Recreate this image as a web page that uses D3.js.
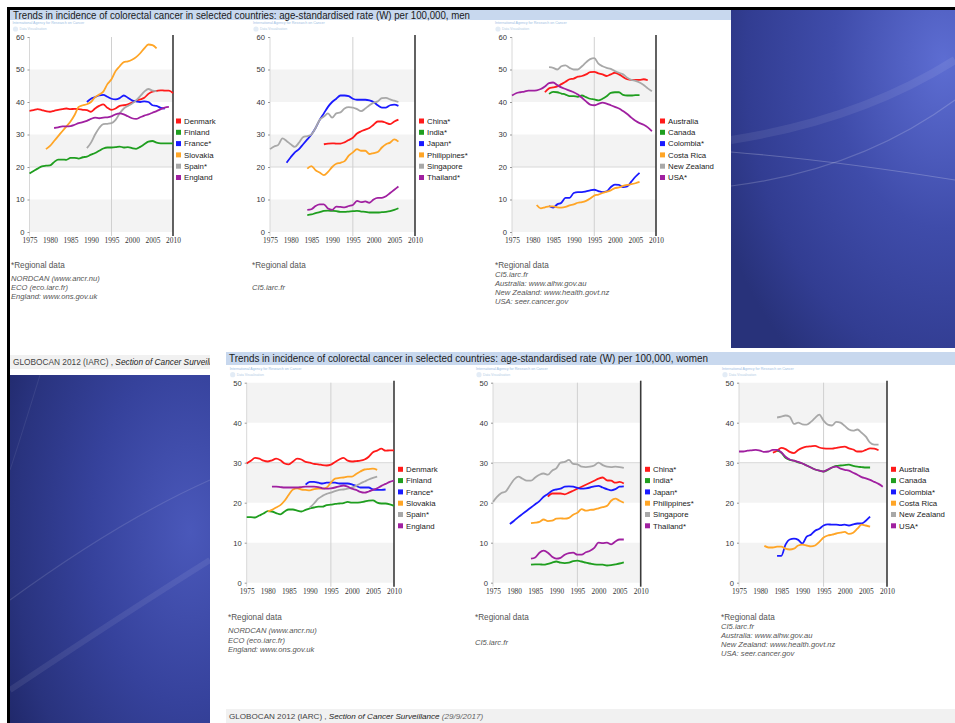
<!DOCTYPE html>
<html><head><meta charset="utf-8">
<script src="https://cdn.jsdelivr.net/npm/d3@7/dist/d3.min.js"></script>
<style>body{margin:0;background:#fff}svg{display:block;font-family:"Liberation Sans",Arial,sans-serif}</style>
</head><body><svg id="c" width="955" height="723"></svg>
<script>
// ---------- DATA ----------
const yearTicks = [1975,1980,1985,1990,1995,2000,2005,2010];
const menTicks = [0,10,20,30,40,50,60];
const womenTicks = [0,10,20,30,40,50];
const seriesColors = ["#ff1a1a","#1f9e1f","#1a1aff","#ffa526","#a8a8a8","#a020a0"];

// Men – Europe
const mEuNames = ["Denmark","Finland","France*","Slovakia","Spain*","England"];
const mEuStart = [1975,1975,1989,1979,1989,1981];
const mDenmark = [37.3,37.5,37.8,37.5,37.2,37.0,37.3,37.6,37.8,38.0,37.8,37.9,37.8,37.6,37.5,37.0,38.0,38.8,39.3,38.2,37.6,38.0,38.8,39.0,39.3,39.8,40.4,40.8,41.3,42.5,43.2,43.4,43.6,43.5,43.5,42.7];
const mFinland = [18.0,18.8,19.5,20.2,20.4,20.5,21.5,22.3,22.3,22.2,22.8,22.8,22.6,23.0,23.2,23.8,24.3,25.0,25.7,26.0,26.0,26.1,26.3,26.0,26.1,25.8,25.6,26.2,27.0,27.8,28.0,27.5,27.3,27.3,27.3,27.3];
const mFrance = [40.0,41.0,41.5,42.0,42.2,41.6,41.0,40.8,41.2,42.0,41.3,40.5,40.2,40.0,40.2,40.0,39.0,38.8,38.2,38.0];
const mSlovakia = [25.5,26.5,28.0,29.5,31.0,32.5,34.0,36.0,38.5,39.0,39.3,40.0,41.5,42.3,43.2,45.5,47.0,49.5,51.0,52.3,52.5,53.0,53.8,55.0,56.5,57.7,57.5,56.5];
const mSpain = [25.8,27.5,30.0,32.0,33.2,33.3,33.5,34.5,36.5,38.0,38.8,39.5,40.5,41.8,43.2,44.0,43.5,43.3];
const mEngland = [32.0,32.2,32.5,32.5,32.6,33.0,33.5,33.8,34.2,34.8,35.2,35.0,35.2,35.3,35.6,36.2,36.5,36.2,35.6,35.0,34.8,35.3,35.8,36.2,36.7,37.2,37.8,38.3,38.5];

// Men – Asia
const mAsNames = ["China*","India*","Japan*","Philippines*","Singapore","Thailand*"];
const mAsStart = [1988,1984,1979,1984,1975,1984];
const mChina = [27.0,27.2,27.3,27.2,27.2,27.6,28.3,29.0,30.3,31.0,31.5,32.0,33.0,34.0,34.0,33.6,33.2,34.0,34.6];
const mIndia = [5.2,5.4,5.8,6.1,6.5,6.6,6.5,6.4,6.2,6.2,6.3,6.4,6.5,6.3,6.2,6.0,6.0,6.0,6.1,6.2,6.4,6.8,7.3];
const mJapan = [21.3,23.0,24.5,25.5,27.0,28.5,30.0,32.0,34.5,36.5,38.5,40.0,41.0,42.0,42.0,41.8,41.0,40.7,40.7,40.7,40.5,40.0,39.0,38.3,38.3,39.0,39.2,38.8];
const mPhilippines = [19.5,20.3,19.0,18.3,17.5,18.5,20.0,21.0,21.3,21.8,23.5,24.5,25.5,25.0,25.0,24.0,24.3,24.6,26.0,27.0,27.5,28.5,27.8];
const mSingapore = [25.5,26.3,26.8,28.8,28.0,27.0,26.2,27.5,29.2,29.5,30.0,32.0,34.5,35.5,36.5,35.2,36.5,36.8,38.0,38.4,38.3,37.8,37.2,38.0,39.0,39.8,40.2,41.2,41.3,40.8,40.4,40.0];
const mThailand = [6.8,7.0,8.0,8.5,8.5,7.2,6.8,7.8,7.7,7.6,8.0,8.3,9.6,9.2,9.4,9.0,10.0,10.5,10.5,11.0,12.0,13.0,14.0];

// Men – Americas / Oceania
const mAmNames = ["Australia","Canada","Colombia*","Costa Rica","New Zealand","USA*"];
const mAmStart = [1983,1984,1984,1981,1984,1975];
const mAustralia = [43.0,44.2,44.5,44.8,45.5,46.2,47.0,47.2,47.8,48.0,48.5,49.2,49.3,48.8,48.5,48.0,48.5,49.0,48.5,47.7,47.0,46.8,46.8,46.8,47.0,46.7];
const mCanada = [42.5,43.1,43.0,42.6,42.3,41.8,41.8,41.6,42.0,41.5,41.0,40.8,40.5,41.0,41.8,42.8,43.0,43.0,42.2,42.0,42.0,42.1,42.1];
const mColombia = [8.0,7.5,8.5,9.0,10.5,10.5,12.0,12.3,12.3,12.5,12.8,13.0,12.6,12.3,12.5,13.8,14.6,14.5,13.8,14.0,15.5,17.0,18.2];
const mCostaRica = [8.3,7.3,7.6,7.9,7.9,7.6,7.5,7.7,8.2,8.5,9.0,9.2,9.6,10.3,11.2,11.5,12.0,12.4,12.8,13.5,13.7,14.2,14.5,14.7,15.0,15.4];
const mNewZealand = [50.7,50.5,50.0,51.0,51.3,50.5,50.0,50.0,51.0,52.2,53.2,53.5,51.8,51.0,50.5,50.2,49.5,49.0,48.5,47.5,46.8,46.5,46.0,45.2,44.2,43.3];
const mUSA = [42.0,42.7,43.0,43.2,43.5,43.5,43.6,44.0,44.8,45.8,46.0,45.2,44.5,44.0,43.5,43.0,42.3,41.3,40.2,39.2,39.0,39.4,39.8,39.5,39.0,38.5,38.0,37.2,36.3,35.2,34.2,33.5,33.0,32.2,31.0];

// Women – Europe
const wEuStart = [1975,1975,1989,1980,1990,1981];
const wDenmark = [29.8,30.5,31.2,31.0,30.5,30.3,30.6,31.0,30.6,29.8,29.6,30.3,31.0,30.8,30.2,30.0,29.7,29.6,29.4,29.3,29.5,30.2,30.8,31.2,30.5,30.3,30.4,30.5,30.8,31.5,32.6,33.0,33.5,33.0,33.1,33.1];
const wFinland = [16.4,16.4,16.3,16.8,17.3,17.9,17.8,17.4,17.1,17.8,18.3,18.3,18.0,17.8,18.2,18.6,18.8,19.0,19.0,19.4,19.5,19.7,19.8,19.9,20.2,20.0,20.0,20.1,20.3,20.5,20.6,20.0,19.8,19.8,19.6,19.2];
const wFrance = [24.5,25.2,25.2,25.0,24.8,25.0,25.0,25.0,24.8,24.8,24.8,24.6,24.2,23.8,23.8,23.8,23.3,23.2,23.2,23.3];
const wSlovakia = [17.8,18.2,18.8,19.4,20.5,22.0,23.3,23.6,23.3,23.2,23.1,23.4,23.5,23.5,23.8,25.0,26.0,26.2,26.3,26.5,26.5,27.2,27.8,28.3,28.4,28.5,28.2];
const wSpain = [18.8,19.8,21.0,21.7,22.2,22.5,22.9,23.2,23.3,23.5,23.8,24.2,24.8,25.3,25.8,26.2,26.5];
const wEngland = [24.0,24.0,23.9,23.8,23.8,23.8,23.8,23.9,24.0,24.0,24.0,23.9,23.6,23.5,23.6,23.8,24.1,24.3,24.0,23.5,23.2,22.7,22.5,22.8,23.2,23.6,24.2,24.7,25.2,25.5];

// Women – Asia
const wAsStart = [1988,1984,1979,1984,1975,1984];
const wChina = [21.5,22.3,22.3,22.3,22.1,22.5,23.0,23.5,24.0,24.5,25.0,25.5,26.0,26.3,25.6,25.5,25.0,25.2,24.8];
const wIndia = [4.5,4.6,4.6,4.5,4.7,5.0,5.3,5.0,4.9,5.0,5.4,5.5,5.3,5.0,4.8,4.6,4.5,4.5,4.3,4.4,4.6,4.8,5.1];
const wJapan = [14.7,15.5,16.4,17.2,18.0,18.8,19.6,20.4,21.5,22.2,23.0,23.3,23.5,24.0,24.1,24.0,23.7,23.5,23.6,23.8,24.1,24.2,23.8,23.4,23.1,23.4,24.0,24.1];
const wPhilippines = [14.9,15.0,15.2,15.8,15.4,15.5,16.0,16.1,16.0,16.2,17.0,17.5,18.4,18.0,18.2,18.3,18.6,18.9,19.2,20.5,21.0,20.5,20.0];
const wSingapore = [20.2,21.5,22.4,22.8,24.3,25.8,26.5,26.0,25.5,25.5,26.3,27.0,27.3,27.0,28.0,28.6,30.0,30.2,30.7,29.7,29.6,29.0,28.9,29.0,29.3,30.0,29.4,29.0,28.9,29.0,28.9,28.7];
const wThailand = [6.0,6.3,7.5,8.0,7.5,6.5,6.0,6.2,7.0,7.4,7.5,7.0,7.0,7.6,8.0,8.7,10.0,9.9,10.0,9.6,10.3,10.8,10.8];

// Women – Americas / Oceania
const wAmStart = [1983,1984,1984,1981,1984,1975];
const wAustralia = [32.5,33.0,33.7,33.4,32.7,32.4,33.2,33.7,34.0,34.1,34.2,33.8,33.6,33.5,33.5,33.7,33.9,34.0,33.6,33.3,32.8,32.8,33.2,33.6,33.5,33.1];
const wCanada = [33.0,32.5,31.2,30.7,30.5,30.1,29.8,29.3,28.8,28.3,28.0,27.8,28.2,28.8,29.2,29.3,29.4,29.5,29.2,29.0,28.9,28.8,28.8];
const wColombia = [6.7,6.7,9.5,10.8,11.0,10.7,9.8,11.5,12.0,13.0,13.5,14.3,14.6,14.5,14.5,14.4,14.5,14.3,14.6,14.8,14.8,15.5,16.5];
const wCostaRica = [9.2,8.8,8.8,9.0,9.0,8.5,8.3,8.5,9.3,9.5,9.3,9.1,9.3,10.2,11.3,11.8,12.0,12.3,12.5,12.7,12.2,12.5,13.5,14.5,14.3,14.0];
const wNewZealand = [41.3,41.5,41.8,41.5,39.7,40.0,39.6,39.5,40.2,41.2,42.0,40.5,39.5,39.3,40.2,40.0,39.2,38.3,38.0,38.3,37.5,36.5,35.0,34.5,34.5];
const wUSA = [32.8,32.8,33.0,33.1,33.2,33.0,32.7,32.8,33.2,33.2,32.6,31.5,30.8,30.5,30.2,29.8,29.3,28.8,28.3,28.0,27.8,28.3,28.8,29.0,28.5,28.2,28.0,27.5,27.0,26.4,26.1,25.7,25.2,24.7,24.0];

const titleMen = "Trends in incidence of colorectal cancer in selected countries: age-standardised rate (W) per 100,000, men";
const titleWomen = "Trends in incidence of colorectal cancer in selected countries: age-standardised rate (W) per 100,000, women";
const notesEu = ["NORDCAN (www.ancr.nu)","ECO (eco.iarc.fr)","England: www.ons.gov.uk"];
const notesAs = ["","","CI5.iarc.fr"];
const notesAm = ["CI5.iarc.fr","Australia: www.aihw.gov.au","New Zealand: www.health.govt.nz","USA: seer.cancer.gov"];

// ---------- DRAW ----------
const svg = d3.select("#c");
const defs = svg.append("defs");
function grad(id, cx, cy, stops){
  const g = defs.append("radialGradient").attr("id",id).attr("cx",cx).attr("cy",cy).attr("r","1.1");
  stops.forEach(s=>g.append("stop").attr("offset",s[0]).attr("stop-color",s[1]));
}
grad("bgTop","0.95","0.15",[[0,"#5d6dd2"],[0.45,"#3f4caa"],[0.8,"#323d92"],[1,"#28327a"]]);
grad("bgBot","0.9","0.45",[[0,"#4a58ba"],[0.45,"#36429c"],[0.8,"#29337e"],[1,"#1e2666"]]);

svg.append("rect").attr("width",955).attr("height",723).attr("fill","#fff");

// blue backgrounds
svg.append("rect").attr("x",731).attr("y",10).attr("width",224).attr("height",338).attr("fill","url(#bgTop)");
svg.append("rect").attr("x",10).attr("y",375).attr("width",200).attr("height",348).attr("fill","url(#bgBot)");
const streak = (d,op,w)=>svg.append("path").attr("d",d).attr("fill","none").attr("stroke","#fff").attr("stroke-opacity",op).attr("stroke-width",w);
streak("M731,152 Q830,160 955,180",0.22,1.2);
streak("M731,186 Q860,170 955,100",0.18,1.2);
streak("M731,140 Q860,120 955,60",0.08,8);
streak("M10,600 Q120,520 210,480",0.12,1.2);
streak("M10,690 Q130,610 210,560",0.08,6);
streak("M40,375 Q20,440 10,470",0.08,1);

// black frame lines
svg.append("rect").attr("x",7).attr("y",7).attr("width",948).attr("height",3).attr("fill","#000");
svg.append("rect").attr("x",7).attr("y",7).attr("width",3).attr("height",716).attr("fill","#000");

// title bars
svg.append("rect").attr("x",10).attr("y",10).attr("width",721).attr("height",10).attr("fill","#c8d8ee");
svg.append("text").attr("x",13).attr("y",18.6).attr("font-size",10.3).attr("fill","#1a1a1a")
  .attr("textLength",457).attr("lengthAdjust","spacingAndGlyphs").text(titleMen);
svg.append("rect").attr("x",226).attr("y",352).attr("width",729).attr("height",13).attr("fill","#c8d8ee");
svg.append("text").attr("x",229).attr("y",362).attr("font-size",10.6).attr("fill","#1a1a1a")
  .attr("textLength",479).attr("lengthAdjust","spacingAndGlyphs").text(titleWomen);

// footers
function footer(x,y,w,dateTxt,fs){
  svg.append("rect").attr("x",x).attr("y",y).attr("width",w).attr("height",14).attr("fill","#f1f1f1");
  const t = svg.append("text").attr("x",x+3).attr("y",y+10).attr("font-size",fs).attr("fill","#444");
  t.append("tspan").text("GLOBOCAN 2012 (IARC) , ");
  t.append("tspan").attr("font-style","italic").attr("fill","#222").text("Section of Cancer Surveillance");
  if(dateTxt) t.append("tspan").attr("font-style","italic").attr("fill","#666").text(" "+dateTxt);
  return t;
}
defs.append("clipPath").attr("id","fclip").append("rect").attr("x",10).attr("y",350).attr("width",200).attr("height",25);
footer(10,355,200,null,8.3).attr("clip-path","url(#fclip)");
footer(226,709,729,"(29/9/2017)",8.1);

function chart(cfg){
  const {x0,x1,yTop,yBot,max,ticks,names,starts,series,lx,ly,hline,nx,ny,notes} = cfg;
  const g = svg.append("g");
  const x = d3.scaleLinear().domain([1975,2010]).range([x0,x1]);
  const y = d3.scaleLinear().domain([0,max]).range([yBot,yTop]);
  // tiny header text
  g.append("text").attr("x",x0-17).attr("y",yTop-13).attr("font-size",3.6).attr("fill","#9cc0e4").text("International Agency for Research on Cancer");
  g.append("circle").attr("cx",x0-14).attr("cy",yTop-8).attr("r",2.6).attr("fill","#e3ecf6");
  g.append("text").attr("x",x0-10).attr("y",yTop-6.8).attr("font-size",3.4).attr("fill","#b4cde6").text("Data Visualisation");
  // bands
  for(let b=0;b<max;b+=20){
    g.append("rect").attr("x",x0).attr("y",y(b+10)).attr("width",x1-x0).attr("height",y(b)-y(b+10)).attr("fill","#f3f3f3");
  }
  g.append("line").attr("x1",x0).attr("x2",x1).attr("y1",y(hline)).attr("y2",y(hline)).attr("stroke","#d8d8d8");
  g.append("line").attr("x1",x(1995)).attr("x2",x(1995)).attr("y1",yTop).attr("y2",yBot+4).attr("stroke","#d0d0d0");
  g.append("line").attr("x1",x0).attr("x2",x0).attr("y1",yTop).attr("y2",yBot+4).attr("stroke","#d8d8d8");
  g.append("line").attr("x1",x1).attr("x2",x1).attr("y1",yTop-2).attr("y2",yBot+4).attr("stroke","#3a3a3a").attr("stroke-width",1.6);
  // y axis
  const ya = g.append("g").attr("transform",`translate(${x0},0)`).call(d3.axisLeft(y).tickValues(ticks).tickSize(2).tickPadding(3));
  ya.select(".domain").remove();
  ya.selectAll("line").attr("stroke","#999");
  ya.selectAll("text").attr("font-size",7.6).attr("fill","#333").attr("font-family","Liberation Sans, Arial");
  // x axis
  const xa = g.append("g").attr("transform",`translate(0,${yBot})`).call(d3.axisBottom(x).tickValues(yearTicks).tickFormat(d3.format("d")).tickSize(0).tickPadding(6));
  xa.select(".domain").remove();
  xa.selectAll("text").attr("font-size",7.4).attr("fill","#333").attr("font-family","Liberation Serif, serif");
  // lines
  const line = d3.line().x(d=>x(d[0])).y(d=>y(d[1])).curve(d3.curveMonotoneX);
  series.forEach((vals,i)=>{
    const pts = vals.map((v,k)=>[starts[i]+k,v]);
    g.append("path").attr("d",line(pts)).attr("fill","none").attr("stroke",seriesColors[i]).attr("stroke-width",1.8).attr("stroke-linejoin","round");
  });
  // legend
  names.forEach((n,i)=>{
    const yy = ly + i*11.3;
    g.append("rect").attr("x",lx).attr("y",yy-2.5).attr("width",5).attr("height",5).attr("fill",seriesColors[i]);
    g.append("text").attr("x",lx+8).attr("y",yy+2.7).attr("font-size",7.8).attr("fill","#222").text(n);
  });
  // notes
  g.append("text").attr("x",nx).attr("y",ny).attr("font-size",8.2).attr("fill","#555").text("*Regional data");
  notes.forEach((t,i)=>{
    if(!t) return;
    g.append("text").attr("x",nx).attr("y",ny+cfg.nstep0+i*cfg.nstep).attr("font-size",7.6).attr("font-style","italic").attr("fill","#555").text(t);
  });
}

const men = {yTop:37,yBot:232,max:60,ticks:menTicks,hline:20,ly:121,ny:268};
const women = {yTop:382.7,yBot:582.7,max:50,ticks:womenTicks,hline:30,ly:469.3,ny:620};

chart({...men,x0:29.5,x1:173,names:mEuNames,starts:mEuStart,series:[mDenmark,mFinland,mFrance,mSlovakia,mSpain,mEngland],lx:176,nx:11,notes:notesEu,nstep0:13,nstep:9});
chart({...men,x0:270,x1:415,names:mAsNames,starts:mAsStart,series:[mChina,mIndia,mJapan,mPhilippines,mSingapore,mThailand],lx:419,nx:252,notes:notesAs,nstep0:4,nstep:9});
chart({...men,x0:512,x1:656,names:mAmNames,starts:mAmStart,series:[mAustralia,mCanada,mColombia,mCostaRica,mNewZealand,mUSA],lx:660,nx:495,notes:notesAm,nstep0:9,nstep:9});

chart({...women,x0:246.7,x1:394,names:mEuNames,starts:wEuStart,series:[wDenmark,wFinland,wFrance,wSlovakia,wSpain,wEngland],lx:398,nx:228,notes:notesEu,nstep0:13,nstep:9.5});
chart({...women,x0:493,x1:640.7,names:mAsNames,starts:wAsStart,series:[wChina,wIndia,wJapan,wPhilippines,wSingapore,wThailand],lx:645,nx:475,notes:notesAs,nstep0:6,nstep:9.5});
chart({...women,x0:739,x1:887,names:mAmNames,starts:wAmStart,series:[wAustralia,wCanada,wColombia,wCostaRica,wNewZealand,wUSA],lx:891,nx:721,notes:notesAm,nstep0:9,nstep:9});
</script></body></html>
